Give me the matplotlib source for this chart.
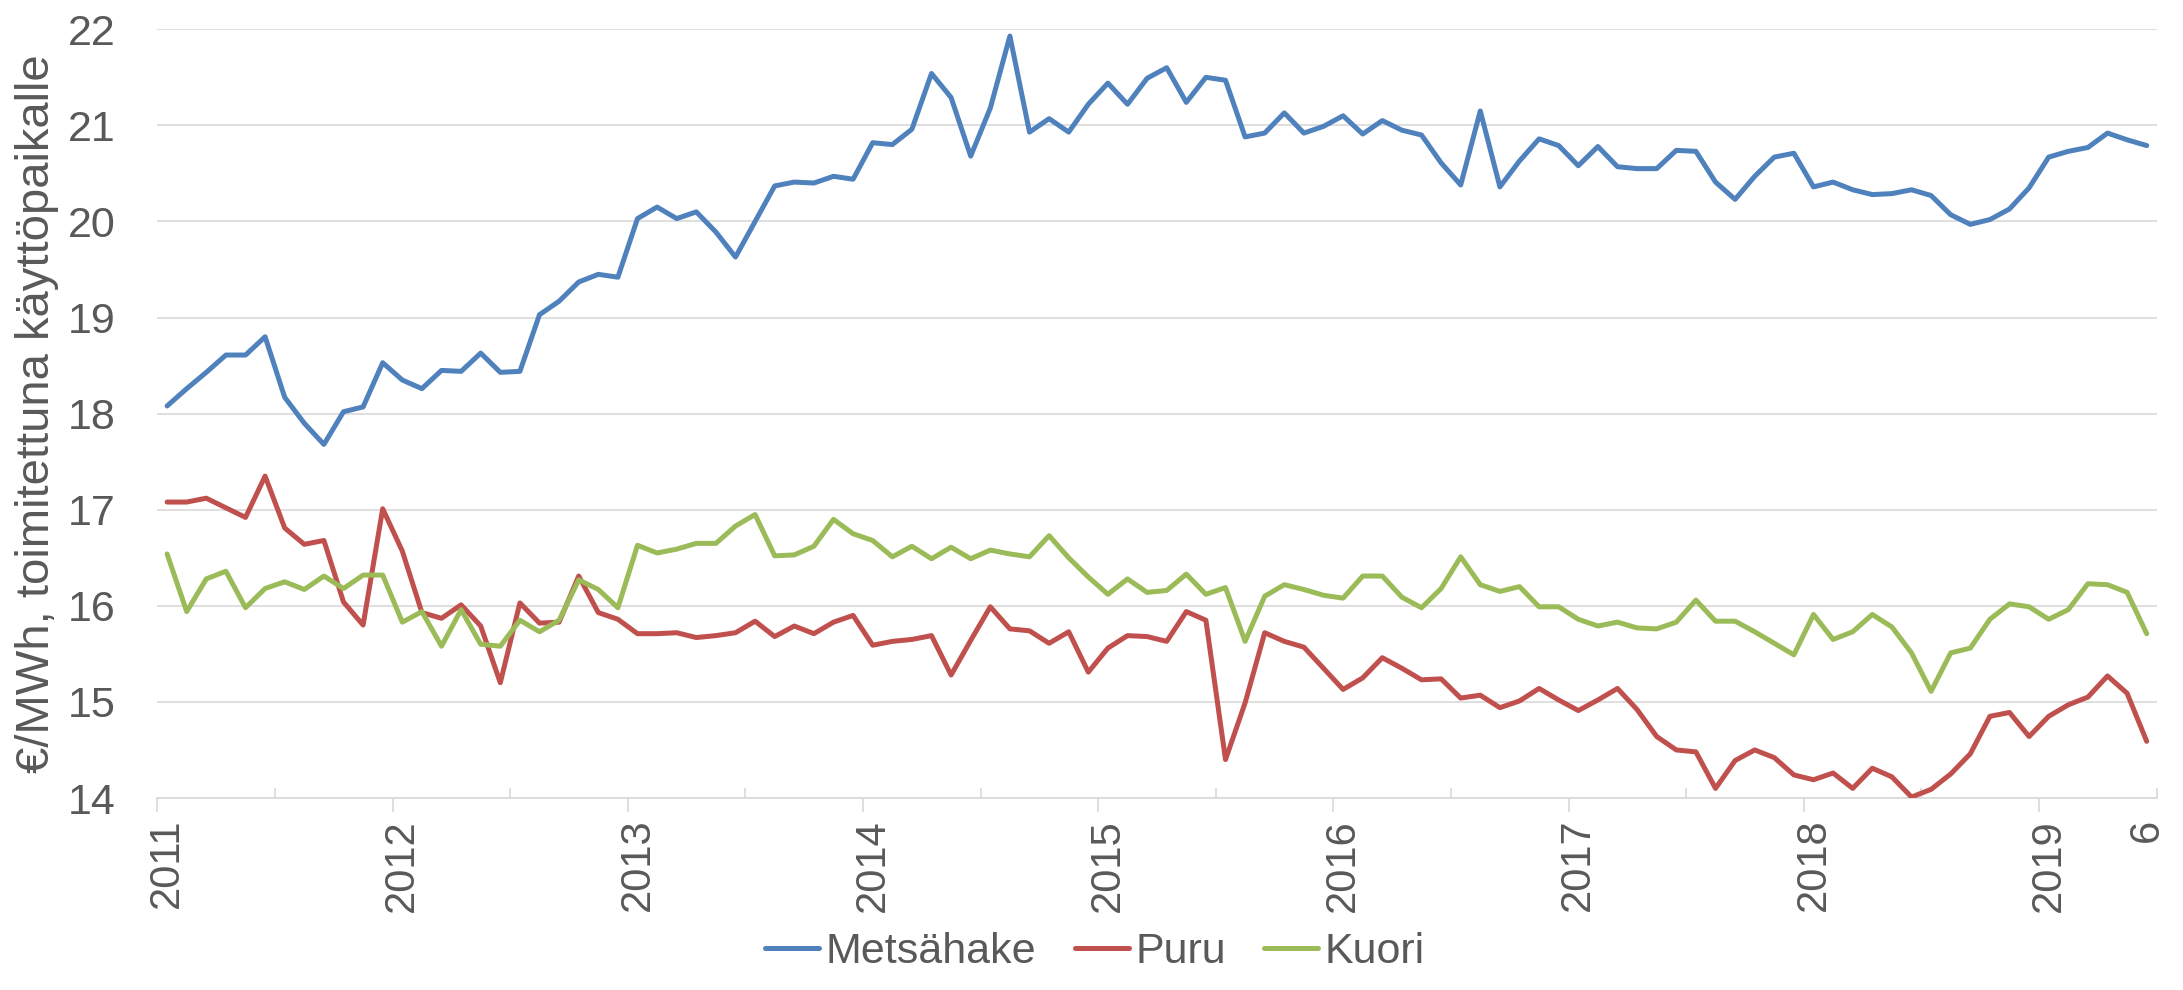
import matplotlib
matplotlib.use("Agg")
import matplotlib.pyplot as plt
import numpy as np

plt.rcParams["font.family"] = ["Liberation Sans", "DejaVu Sans"]

# ---- data (monthly, Jan 2011 - Jun 2019) ----
months = [f"{y}-{m:02d}" for y in range(2011, 2020) for m in range(1, 13)][:102]

metsahake = [18.08, 18.26, 18.43, 18.61, 18.61, 18.80, 18.17, 17.90, 17.68, 18.02, 18.07, 18.53,
             18.35, 18.26, 18.45, 18.44, 18.63, 18.43, 18.44, 19.03, 19.17, 19.37, 19.45, 19.42,
             20.03, 20.15, 20.03, 20.10, 19.89, 19.63, 20.00, 20.37, 20.41, 20.40, 20.47, 20.44,
             20.82, 20.80, 20.96, 21.54, 21.29, 20.68, 21.18, 21.93, 20.93, 21.07, 20.93, 21.22,
             21.44, 21.22, 21.49, 21.60, 21.24, 21.50, 21.47, 20.88, 20.92, 21.13, 20.92, 20.99,
             21.10, 20.91, 21.05, 20.95, 20.90, 20.61, 20.38, 21.15, 20.36, 20.63, 20.86, 20.79,
             20.58, 20.78, 20.57, 20.55, 20.55, 20.74, 20.73, 20.41, 20.23, 20.47, 20.67, 20.71,
             20.36, 20.41, 20.33, 20.28, 20.29, 20.33, 20.27, 20.07, 19.97, 20.02, 20.13, 20.35,
             20.67, 20.73, 20.77, 20.92, 20.85, 20.79]

puru = [17.08, 17.08, 17.12, 17.02, 16.92, 17.35, 16.81, 16.64, 16.68, 16.04, 15.80, 17.01,
        16.57, 15.93, 15.87, 16.01, 15.79, 15.20, 16.03, 15.82, 15.83, 16.31, 15.93, 15.86,
        15.71, 15.71, 15.72, 15.67, 15.69, 15.72, 15.84, 15.68, 15.79, 15.71, 15.83, 15.90,
        15.59, 15.63, 15.65, 15.69, 15.28, 15.64, 15.99, 15.76, 15.74, 15.61, 15.73, 15.31,
        15.56, 15.69, 15.68, 15.63, 15.94, 15.85, 14.40, 14.99, 15.72, 15.63, 15.57, 15.35,
        15.13, 15.25, 15.46, 15.35, 15.23, 15.24, 15.04, 15.07, 14.94, 15.01, 15.14, 15.02,
        14.91, 15.02, 15.14, 14.92, 14.64, 14.50, 14.48, 14.10, 14.39, 14.50, 14.42, 14.24,
        14.19, 14.26, 14.10, 14.31, 14.22, 14.01, 14.09, 14.25, 14.46, 14.85, 14.89, 14.64,
        14.85, 14.97, 15.05, 15.27, 15.09, 14.59]

kuori = [16.54, 15.94, 16.28, 16.36, 15.98, 16.18, 16.25, 16.17, 16.31, 16.18, 16.32, 16.32,
         15.83, 15.94, 15.58, 15.96, 15.60, 15.58, 15.85, 15.73, 15.85, 16.27, 16.17, 15.98,
         16.63, 16.55, 16.59, 16.65, 16.65, 16.83, 16.95, 16.52, 16.53, 16.62, 16.90, 16.75,
         16.68, 16.51, 16.62, 16.49, 16.61, 16.49, 16.58, 16.54, 16.51, 16.73, 16.50, 16.30,
         16.12, 16.28, 16.14, 16.16, 16.33, 16.12, 16.19, 15.63, 16.10, 16.22, 16.17, 16.11,
         16.08, 16.31, 16.31, 16.09, 15.98, 16.18, 16.51, 16.22, 16.15, 16.20, 15.99, 15.99,
         15.86, 15.79, 15.83, 15.77, 15.76, 15.83, 16.06, 15.84, 15.84, 15.73, 15.61, 15.49,
         15.91, 15.65, 15.73, 15.91, 15.78, 15.51, 15.11, 15.51, 15.56, 15.86, 16.02, 15.99,
         15.86, 15.96, 16.23, 16.22, 16.14, 15.71]

series_names = ["Metsähake", "Puru", "Kuori"]
series_colors = ["#4F81BD", "#C0504D", "#9BBB59"]

tick_months = ["2011-01", "2012-01", "2013-01", "2014-01", "2015-01", "2016-01",
               "2017-01", "2018-01", "2019-01", "2019-06"]
tick_labels = ["2011", "2012", "2013", "2014", "2015", "2016", "2017", "2018", "2019", "6"]

ylabel = "€/MWh, toimitettuna käyttöpaikalle"

# ---- figure ----
W, H = 2183, 990
fig = plt.figure(figsize=(W / 100, H / 100), dpi=100)
ax = fig.add_axes([157.3 / W, 1 - 798 / H, (2156.5 - 157.3) / W, (798 - 29.3) / H])

x = np.arange(len(months))
for vals, name, col in zip([metsahake, puru, kuori], series_names, series_colors):
    ax.plot(x, vals, color=col, lw=3.6, label=name,
            solid_joinstyle="round", solid_capstyle="round", zorder=3)

ax.set_xlim(-0.5, len(months) - 0.5)
ax.set_ylim(14, 22)
ax.set_yticks(range(14, 23))

grid_c = "#D9D9D9"
text_c = "#595959"
ax.yaxis.grid(True, color=grid_c, lw=1.2)
ax.set_axisbelow(True)
for s in ["left", "right", "top"]:
    ax.spines[s].set_visible(False)
ax.spines["bottom"].set_color(grid_c)
ax.spines["bottom"].set_linewidth(1.2)

ax.tick_params(axis="y", length=0, pad=30, labelsize=31, labelcolor=text_c)

# labels at category positions
pos = [months.index(m) for m in tick_months]
ax.set_xticks(pos)
ax.set_xticklabels(tick_labels, rotation=90)
ax.tick_params(axis="x", which="major", length=0, pad=15, labelsize=30, labelcolor=text_c)

# year boundary ticks (outward) and half-year ticks (inward)
year_bounds = [i - 0.5 for i in range(0, len(months) + 1, 12)]
half_bounds = [i - 0.5 for i in range(6, len(months) + 1, 12)]
ax.set_xticks(year_bounds, minor=True)
ax.tick_params(axis="x", which="minor", direction="out", length=10, width=1.2, color=grid_c)

sec = ax.secondary_xaxis("bottom")
sec.set_xticks(half_bounds)
sec.tick_params(direction="in", length=7.2, width=1.2, color=grid_c, labelbottom=False)
sec.spines["bottom"].set_visible(False)

ax.set_ylabel(ylabel, fontsize=34, color=text_c, labelpad=6)

fig.legend(loc="center", bbox_to_anchor=(1095 / W, 1 - 952 / H), ncol=3, frameon=False,
           fontsize=31, labelcolor=text_c, handlelength=1.25, handletextpad=0.15,
           columnspacing=0.9, borderaxespad=0)

fig.savefig("out.png", dpi=100)
